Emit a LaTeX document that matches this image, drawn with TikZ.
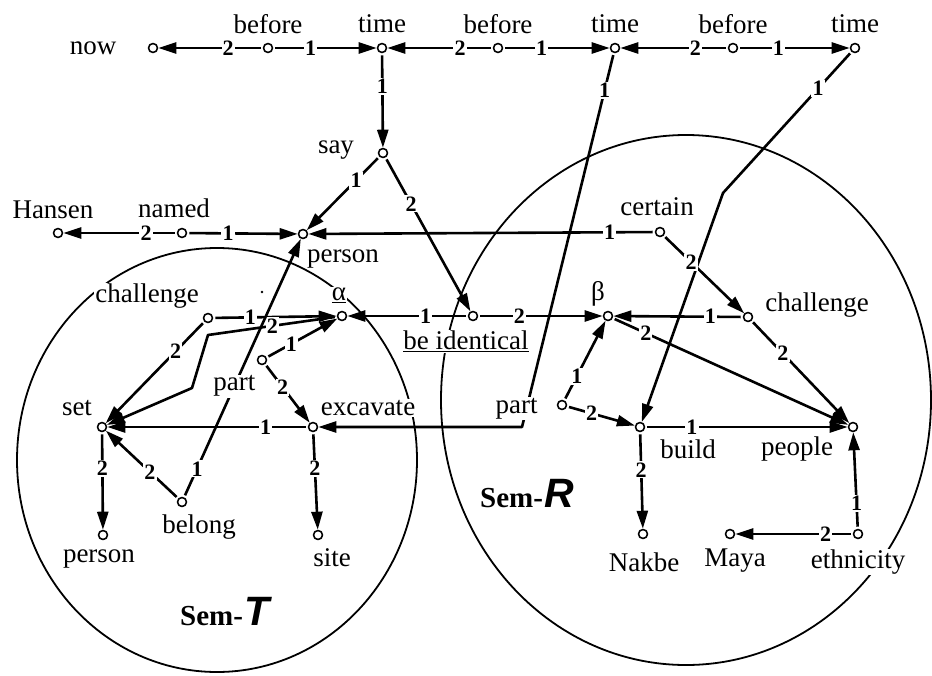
\documentclass[tikz,border=0pt]{standalone}
\usepackage{fontspec}
\setmainfont{Liberation Serif}
\newfontfamily\semsans{Liberation Sans}
\usetikzlibrary{arrows.meta}
\newcommand\wordsize{\fontsize{27}{30}\selectfont}
\newcommand\numsize{\fontsize{22}{24}\selectfont\bfseries}

\begin{document}
\begin{tikzpicture}[
  x=1pt,
  y=-1pt,
  line join=round,
  vertex/.style={circle,draw=black,line width=1.6pt,fill=white,minimum size=9pt,inner sep=0pt},
  word/.style={font=\wordsize,fill=white,inner sep=1pt},
  num/.style={font=\numsize,fill=white,inner sep=1.2pt},
  rel/.style={draw=black,line width=2.6pt,shorten <=2pt,-{Triangle[length=18pt,width=11pt]}},
  semzone/.style={draw=black,line width=1.8pt},
  semname/.style={anchor=base west,inner sep=0pt}
]
  \useasboundingbox (0,0) rectangle (932,675);

  % Regions of the two semantic structures.
  \draw[semzone] (217,460) ellipse [x radius=200,y radius=212];
  \draw[semzone] (686,400) ellipse [x radius=245,y radius=265];
  \fill (262,292) circle [radius=1.3];

  % Vertices, row by row.
  \foreach \n/\x/\y in {now/153/48,bef1/268/48,tim1/382/48,bef2/498/48,
                        tim2/615/48,bef3/733/48,tim3/855/48,
                        hansen/58/233,named/182/233,person/303/234,say/383/153,certain/660/232,
                        challT/208/318,alpha/342/316,ident/473/316,beta/608/316,challR/748/317,
                        blank/262/360,
                        set/102/427,excav/313/427,partR/562/405,build/640/427,people/853/427,
                        belong/182/502,personT/103/535,site/318/535,
                        nakbe/643/534,maya/730/534,ethnic/858/534} {
    \node[vertex] (\n) at (\x,\y) {};
  }

  % Corners of the bent connectors.
  \coordinate (kTime) at (723,193);
  \coordinate (kPart) at (522,427);
  \coordinate (kAlpha) at (208,335);
  \coordinate (kSet) at (192,388);

  % Words beside the vertices.
  \node[word] (tNow) at (93,48) {now};
  \node[word] (tBef1) at (268,24) {before};
  \node[word] (tTim1) at (382,24) {time};
  \node[word] (tBef2) at (498,24) {before};
  \node[word] (tTim2) at (615,24) {time};
  \node[word] (tBef3) at (733,24) {before};
  \node[word] (tTim3) at (855,24) {time};
  \node[word] (tSay) at (336,150) {say};
  \node[word] (tHansen) at (53,210) {Hansen};
  \node[word] (tNamed) at (174,208) {named};
  \node[word] (tPerson) at (343,259) {person};
  \node[word] (tCertain) at (657,207) {certain};
  \node[word] (tChallT) at (147,296) {challenge};
  \node[word] (tAlpha) at (339,295) {\underline{α}};
  \node[word] (tIdent) at (466,341) {\underline{be identical}};
  \node[word] (tBeta) at (598,294) {β};
  \node[word] (tChallR) at (817,305) {challenge};
  \node[word] (tSet) at (77,408) {set};
  \node[word] (tExcav) at (368,408) {excavate};
  \node[word] (tBuild) at (688,449) {build};
  \node[word] (tPeople) at (797,449) {people};
  \node[word] (tBelong) at (199,527) {belong};
  \node[word] (tPersonT) at (99,559) {person};
  \node[word] (tSite) at (332,558) {site};
  \node[word] (tNakbe) at (644,562) {Nakbe};
  \node[word] (tMaya) at (735,561) {Maya};
  \node[word] (tEthnic) at (858,562) {ethnicity};
  \node[semname] (semT) at (180,625) {{\fontsize{29}{32}\selectfont\bfseries Sem-}\kern1pt{\semsans\fontsize{41}{44}\selectfont\bfseries\itshape T}};
  \node[semname] (semR) at (480,507) {{\fontsize{29}{32}\selectfont\bfseries Sem-}\kern1pt{\semsans\fontsize{41}{44}\selectfont\bfseries\itshape R}};

  % Time chain along the top.
  \draw[rel] (bef1) -- node[num,pos=0.33] (l1) {2} (now);
  \draw[rel] (bef1) -- node[num,pos=0.36] (l2) {1} (tim1);
  \draw[rel] (bef2) -- node[num,pos=0.31] (l3) {2} (tim1);
  \draw[rel] (bef2) -- node[num,pos=0.36] (l4) {1} (tim2);
  \draw[rel] (bef3) -- node[num,pos=0.30] (l5) {2} (tim2);
  \draw[rel] (bef3) -- node[num,pos=0.36] (l6) {1} (tim3);
  \draw[rel] (tim1) -- node[num,pos=0.35] (l7) {1} (say);
  \draw[rel] (tim2) -- node[num,pos=0.1] (l8) {1}
    node[word,pos=0.95,xshift=-10pt] (tPartR) {part} (kPart) -- (excav);
  \draw[rel] (tim3) -- node[num,pos=0.26] (l9) {1} (kTime) -- (build);

  % Speaker and the identity between the two structures.
  \draw[rel] (say) -- node[num,pos=0.32] (l10) {1} (person);
  \draw[rel] (say) -- node[num,pos=0.3] (l11) {2} (ident);
  \draw[rel] (named) -- node[num,pos=0.27] (l12) {2} (hansen);
  \draw[rel] (named) -- node[num,pos=0.37] (l13) {1} (person);
  \draw[rel] (certain) -- node[num,pos=0.13] (l14) {1} (person);
  \draw[rel] (certain) -- node[num,pos=0.34] (l15) {2} (challR);
  \draw[rel] (ident) -- node[num,pos=0.35] (l16) {1} (alpha);
  \draw[rel] (ident) -- node[num,pos=0.33] (l17) {2} (beta);

  % Sem-T.
  \draw[rel] (challT) -- node[num,pos=0.3] (l18) {1} (alpha);
  \draw[rel] (challT) -- node[num,pos=0.29] (l19) {2} (set);
  \draw[rel] (alpha) -- node[num,pos=0.5] (l20) {2} (kAlpha) -- (kSet) -- (set);
  \draw[rel] (blank) -- node[num,pos=0.35] (l21) {1} (alpha);
  \draw[rel] (blank) -- node[num,pos=0.39] (l22) {2} (excav);
  \draw[rel] (excav) -- node[num,pos=0.21] (l23) {1} (set);
  \draw[rel] (set) -- node[num,pos=0.37] (l24) {2} (personT);
  \draw[rel] (excav) -- node[num,pos=0.37] (l25) {2} (site);
  \draw[rel] (belong) -- node[num,pos=0.39] (l26) {2} (set);
  \draw[rel] (belong) -- node[num,pos=0.11] (l27) {1}
    node[word,pos=0.43] (tPartT) {part} (person);

  % Sem-R.
  \draw[rel] (challR) -- node[num,pos=0.25] (l28) {1} (beta);
  \draw[rel] (challR) -- node[num,pos=0.32] (l29) {2} (people);
  \draw[rel] (beta) -- node[num,pos=0.14] (l30) {2} (people);
  \draw[rel] (partR) -- node[num,pos=0.3] (l31) {1} (beta);
  \draw[rel] (partR) -- node[num,pos=0.36] (l32) {2} (build);
  \draw[rel] (build) -- node[num,pos=0.23] (l33) {1} (people);
  \draw[rel] (build) -- node[num,pos=0.39] (l34) {2} (nakbe);
  \draw[rel] (ethnic) -- node[num,pos=0.26] (l35) {1} (people);
  \draw[rel] (ethnic) -- node[num,pos=0.23] (l36) {2} (maya);
\end{tikzpicture}
\end{document}
